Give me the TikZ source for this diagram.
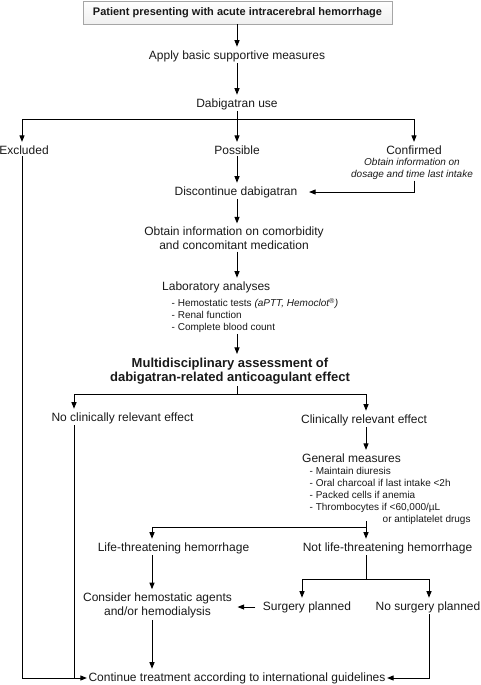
\documentclass[tikz,border=0pt]{standalone}
\usepackage{fontspec}
\setmainfont{Liberation Sans}
\usetikzlibrary{arrows.meta,shadows}
\tikzset{
  txt/.style={font=\fontsize{12}{14}\selectfont, inner sep=1.5pt, align=center, text=black!90},
  bld/.style={txt, font=\fontsize{13}{14.5}\selectfont\bfseries},
  sm/.style={font=\fontsize{10}{12}\selectfont, inner sep=1pt, align=left, text=black!90},
  note/.style={font=\fontsize{10}{12}\selectfont\itshape, inner sep=1pt, align=center, text=black!90},
  arr/.style={-{Triangle[length=6.5pt,width=5pt]}, line width=0.9pt},
  ln/.style={line width=0.9pt},
  topbox/.style={txt, font=\fontsize{11}{13}\selectfont\bfseries, draw=gray!70, line width=0.6pt, top color=white, bottom color=gray!12,
    minimum width=309pt, minimum height=23pt,
    drop shadow={shadow xshift=1.2pt, shadow yshift=-1.2pt, fill=gray!60, opacity=0.8}}
}
\begin{document}
\begin{tikzpicture}[x=1pt,y=-1pt]
\useasboundingbox (0,0) rectangle (480,685);
% column coordinates
\coordinate (mx) at (237,0);
\coordinate (ex) at (22,0);
\coordinate (cx) at (414,0);
\coordinate (nx) at (74,0);
\coordinate (rx) at (366,0);
\coordinate (lx) at (152,0);
\coordinate (sx) at (302,0);
\coordinate (nsx) at (429,0);
% nodes
\node[topbox] (top) at (237.5,12.5) {Patient presenting with acute intracerebral hemorrhage};
\node[txt] (apply) at (237,56) {Apply basic supportive measures};
\node[txt] (dabig) at (237,104) {Dabigatran use};
\coordinate (b1) at (237,119);
\node[txt] (excl) at (24,150) {Excluded};
\node[txt] (poss) at (237,150) {Possible};
\node[txt] (conf) at (414,150) {Confirmed};
\node[note, anchor=north] (confnote) at (412,157) {Obtain information on\\dosage and time last intake};
\node[txt] (disc) at (236,192) {Discontinue dabigatran};
\node[txt] (obtain) at (234,238.5) {Obtain information on comorbidity\\and concomitant medication};
\node[txt, anchor=west] (labt) at (160.5,287) {Laboratory analyses};
\node[sm, anchor=north west] (labi) at (170.5,297) {- Hemostatic tests \textit{(aPTT, Hemoclot\textsuperscript{\textregistered})}\\- Renal function\\- Complete blood count};
\node[bld] (multi) at (230,371) {Multidisciplinary assessment of\\dabigatran-related anticoagulant effect};
\coordinate (b2) at (237,394);
\node[txt] (noeff) at (122.5,418) {No clinically relevant effect};
\node[txt] (clin) at (364,420) {Clinically relevant effect};
\node[txt, anchor=west] (gent) at (300.5,458) {General measures};
\node[sm, anchor=north west] (geni) at (308.5,466) {- Maintain diuresis\\- Oral charcoal if last intake {<}2h\\- Packed cells if anemia\\- Thrombocytes if {<}60,000/µL\\\hspace*{73pt}or antiplatelet drugs};
\coordinate (g0) at (366,521);
\coordinate (b3) at (366,527);
\node[txt] (life) at (173.5,548) {Life-threatening hemorrhage};
\node[txt] (notlife) at (387.5,548) {Not life-threatening hemorrhage};
\coordinate (b4) at (366,579);
\node[txt] (consider) at (157.5,605.5) {Consider hemostatic agents\\and/or hemodialysis};
\node[txt] (surg) at (307,607) {Surgery planned};
\node[txt] (nosurg) at (428,607) {No surgery planned};
\node[txt] (cont) at (237,678) {Continue treatment according to international guidelines};
% connectors
\draw[arr] (top.south -| mx) -- ([yshift=2pt]apply.north -| mx);
\draw[arr] (apply.south -| mx) -- ([yshift=2pt]dabig.north -| mx);
\draw[ln] (dabig.south -| mx) -- (b1);
\draw[arr] (b1) -| ([yshift=2pt]excl.north -| ex);
\draw[arr] (b1) -- ([yshift=2pt]poss.north -| mx);
\draw[arr] (b1) -| ([yshift=2pt]conf.north -| cx);
\draw[arr] (poss.south -| mx) -- ([yshift=2pt]disc.north -| mx);
\draw[arr, shorten >=10pt] (confnote.south -| cx) |- (disc.east);
\draw[arr] (disc.south -| mx) -- ([yshift=2pt]obtain.north -| mx);
\draw[arr] (obtain.south -| mx) -- ([yshift=2pt]labt.north -| mx);
\draw[arr] (labi.south -| mx) -- ([yshift=2pt]multi.north -| mx);
\draw[ln] (multi.south -| mx) -- (b2);
\draw[arr] (b2) -| ([yshift=2pt]noeff.north -| nx);
\draw[arr] (b2) -| ([yshift=2pt]clin.north -| rx);
\draw[arr] (clin.south -| rx) -- ([yshift=2pt]gent.north -| rx);
\draw[arr] (g0) -- ([yshift=2pt]notlife.north -| rx);
\draw[arr] (b3) -| ([yshift=2pt]life.north -| lx);
\draw[arr] (life.south -| lx) -- ([yshift=2pt]consider.north -| lx);
\draw[ln] (notlife.south -| rx) -- (b4);
\draw[arr] (b4) -| ([yshift=2pt]surg.north -| sx);
\draw[arr] (b4) -| ([yshift=2pt]nosurg.north -| nsx);
\draw[arr, shorten <=6pt, shorten >=4pt] (surg.west) -- (consider.east |- surg.west);
\draw[arr] (consider.south -| lx) -- ([yshift=2pt]cont.north -| lx);
\draw[arr] (nosurg.south -| nsx) |- (cont.east);
\draw[arr] (excl.south -| ex) |- (cont.west);
\draw[ln] (noeff.south -| nx) -- (cont.west -| nx);
\end{tikzpicture}
\end{document}
